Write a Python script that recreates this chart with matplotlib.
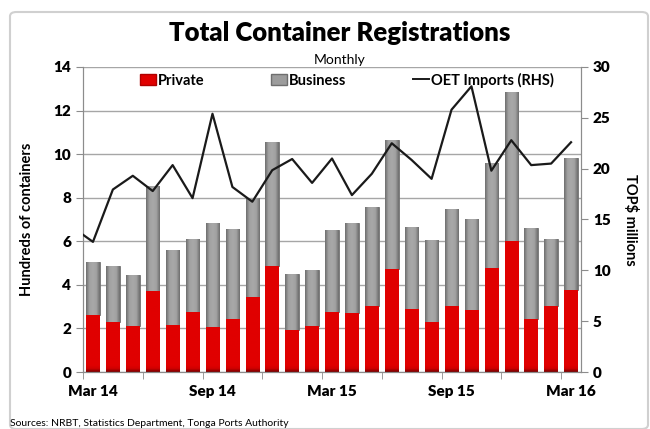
import numpy as np
import matplotlib
matplotlib.use("Agg")
import matplotlib.pyplot as plt
from matplotlib.patches import FancyBboxPatch, Patch
from matplotlib.lines import Line2D
from matplotlib.colors import LinearSegmentedColormap

plt.rcParams['font.family'] = ['Lato', 'DejaVu Sans']

months = ["Mar 14", "Apr 14", "May 14", "Jun 14", "Jul 14", "Aug 14", "Sep 14",
          "Oct 14", "Nov 14", "Dec 14", "Jan 15", "Feb 15", "Mar 15", "Apr 15",
          "May 15", "Jun 15", "Jul 15", "Aug 15", "Sep 15", "Oct 15", "Nov 15",
          "Dec 15", "Jan 16", "Feb 16", "Mar 16"]
# hundreds of containers
private = [2.6, 2.3, 2.1, 3.7, 2.15, 2.75, 2.05, 2.45, 3.45, 4.85, 1.95, 2.1, 2.75,
           2.72, 3.04, 4.71, 2.87, 2.28, 3.03, 2.83, 4.78, 6.01, 2.45, 3.03, 3.76]
total = [5.05, 4.85, 4.45, 8.55, 5.6, 6.1, 6.85, 6.55, 8.0, 10.55, 4.5, 4.7, 6.5,
         6.83, 7.58, 10.67, 6.67, 6.04, 7.5, 7.0, 9.6, 12.84, 6.59, 6.09, 9.83]
business = [t - p for t, p in zip(total, private)]
# OET imports, TOP$ millions (first value = Feb 14, partly off the left edge)
imports = [14.2, 12.8, 17.95, 19.3, 17.8, 20.35, 17.1, 25.4, 18.2, 16.75, 19.85,
           20.95, 18.6, 21.0, 17.4, 19.5, 22.5, 20.85, 19.0, 25.8, 28.1, 19.8,
           22.8, 20.35, 20.5, 22.6]
label_months = ["Mar 14", "Sep 14", "Mar 15", "Sep 15", "Mar 16"]

red = "#E00000"
grey = "#9C9C9C"
axcol = "#8C8C8C"

fig = plt.figure(figsize=(6.5, 4.29), dpi=100)
ax = fig.add_axes([83/650, 1-372/429, 498/650, 305/429])

x = np.arange(len(months))
b1 = ax.bar(x, private, width=0.68, color=red, edgecolor="none", zorder=2)
b2 = ax.bar(x, business, bottom=private, width=0.68, color=grey, edgecolor="#707070",
            linewidth=0.6, zorder=2)

# shading like the original: grey darker at the sides, red darker at the base
cm_grey = LinearSegmentedColormap.from_list("g", ["#6E6E6E", "#A2A2A2", "#A8A8A8",
                                                  "#A2A2A2", "#6E6E6E"])
cm_red = LinearSegmentedColormap.from_list("r", ["#7A0000", "#D00000", "#E00000",
                                                 "#E00000", "#E00000"])
hgrad = np.linspace(0, 1, 64).reshape(1, -1)
for r in b2:
    im = ax.imshow(hgrad, cmap=cm_grey, aspect="auto", zorder=2.1,
                   extent=[r.get_x(), r.get_x() + r.get_width(),
                           r.get_y(), r.get_y() + r.get_height()])
    im.set_clip_path(r)
for r in b1:
    h = r.get_height()
    fade = min(1.0, 0.6 / h)
    g = np.clip(np.linspace(1, 0, 128) / fade, 0, 1).reshape(-1, 1)
    im = ax.imshow(g, cmap=cm_red, aspect="auto", zorder=2.1, vmin=0, vmax=1,
                   extent=[r.get_x(), r.get_x() + r.get_width(),
                           r.get_y(), r.get_y() + h])
    im.set_clip_path(r)

ax.set_xlim(-0.5, len(months) - 0.5)
ax.set_ylim(0, 14)
ax.set_yticks(np.arange(0, 15, 2))
ax.grid(axis="y", color="#A6A6A6", linewidth=1, zorder=0)
ax.set_axisbelow(True)

ax.set_xticks([months.index(m) for m in label_months])
ax.set_xticklabels(label_months)
ax.set_xticks(np.arange(-0.5, len(months), 3), minor=True)
ax.tick_params(axis="x", which="major", length=0, pad=9)
ax.tick_params(axis="x", which="minor", length=5, color=axcol, direction="out")
ax.tick_params(axis="y", length=5, color=axcol, direction="out")
for lab in ax.get_xticklabels() + ax.get_yticklabels():
    lab.set_fontsize(11)
    lab.set_fontweight("heavy")

for s in ["left", "bottom", "right"]:
    ax.spines[s].set_color(axcol)
ax.spines["top"].set_visible(False)

ax.set_ylabel("Hundreds of containers", fontsize=10.5, fontweight="bold", labelpad=14)

ax2 = ax.twinx()
xl = np.arange(-1, len(months))
ax2.plot(xl, imports, color="#1A1A1A", linewidth=1.6, zorder=3)
ax2.set_ylim(0, 30)
ax2.set_xlim(-0.5, len(months) - 0.5)
ax2.set_yticks(np.arange(0, 31, 5))
ax2.tick_params(axis="y", length=5, color=axcol, direction="out")
for lab in ax2.get_yticklabels():
    lab.set_fontsize(11)
    lab.set_fontweight("heavy")
for s in ["left", "bottom", "right"]:
    ax2.spines[s].set_color(axcol)
ax2.spines["top"].set_visible(False)
ax2.set_ylabel("TOP$ millions", fontsize=10.5, fontweight="bold", rotation=270,
               labelpad=20)

handles = [Patch(facecolor=red, edgecolor="#B00000"),
           Patch(facecolor=grey, edgecolor="#6E6E6E"),
           Line2D([0], [0], color="#1A1A1A", linewidth=1.4)]
leg = ax2.legend(handles, ["Private", "Business", "OET Imports (RHS)"], ncol=3,
                 loc="upper center", bbox_to_anchor=(0.53, 1.025), frameon=False,
                 handlelength=1.1, handletextpad=0.1, columnspacing=4.6,
                 prop={"weight": "bold", "size": 10.5})

fig.text(340/650, 1-33/429, "Total Container Registrations", ha="center", va="center",
         fontsize=18.5, fontweight="heavy")
fig.text(340/650, 1-60/429, "Monthly", ha="center", va="center", fontsize=10)
fig.text(10/650, 1-423/429, "Sources: NRBT, Statistics Department, Tonga Ports Authority",
         ha="left", va="center", fontsize=7.5)

border = FancyBboxPatch((10/650, 0.0), 638/650, 1-12/429, transform=fig.transFigure,
                        boxstyle="round,pad=0,rounding_size=0.01", facecolor="none",
                        edgecolor="#D0D0D0", linewidth=1.5)
fig.patches.append(border)

fig.savefig("out.png", dpi=100)
